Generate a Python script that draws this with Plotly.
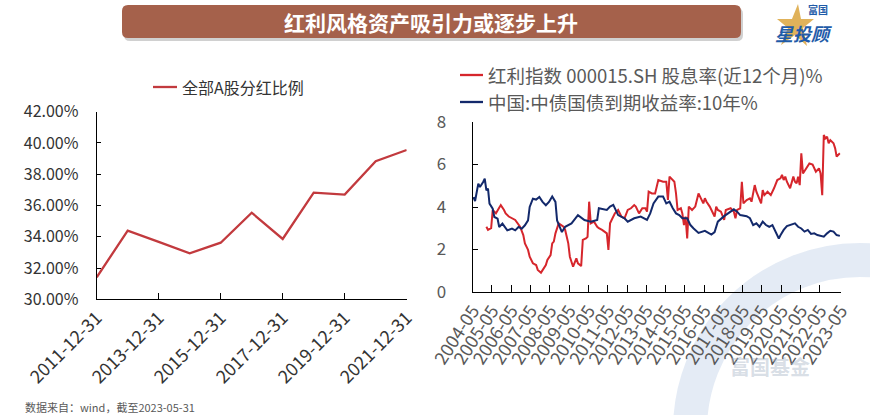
import plotly.graph_objects as go

# left chart: 全部A股分红比例 (%)
years_left = ["2011-12-31", "2012-12-31", "2013-12-31", "2014-12-31", "2015-12-31", "2016-12-31",
              "2017-12-31", "2018-12-31", "2019-12-31", "2020-12-31", "2021-12-31"]
payout_ratio = [31.41, 34.39, 33.67, 32.94, 33.62, 35.54, 33.86, 36.82, 36.70, 38.83, 39.55]
left_ticks = ["2011-12-31", "2013-12-31", "2015-12-31", "2017-12-31", "2019-12-31", "2021-12-31"]

# right chart: 中国:中债国债到期收益率:10年 (%)
bond_dates = ["2004-05", "2004-06", "2004-08", "2004-09", "2004-11", "2004-12", "2005-01", "2005-02",
              "2005-03", "2005-05", "2005-06", "2005-08", "2005-09", "2005-11", "2006-02", "2006-05",
              "2006-07", "2006-09", "2006-11", "2007-01", "2007-03", "2007-04", "2007-06", "2007-08",
              "2007-10", "2007-12", "2008-02", "2008-04", "2008-06", "2008-08", "2008-09", "2008-12",
              "2009-02", "2009-06", "2009-10", "2010-02", "2010-06", "2010-10", "2010-11", "2011-04",
              "2011-06", "2011-08", "2011-11", "2012-03", "2012-05", "2012-09", "2013-01", "2013-05",
              "2013-07", "2013-09", "2013-12", "2014-03", "2014-05", "2014-07", "2014-09", "2014-11",
              "2015-01", "2015-03", "2015-06", "2015-08", "2015-10", "2016-01", "2016-05", "2016-07",
              "2016-09", "2016-11", "2017-01", "2017-05", "2017-09", "2017-11", "2018-01", "2018-03",
              "2018-07", "2018-09", "2018-11", "2019-01", "2019-03", "2019-05", "2019-07", "2019-09",
              "2019-11", "2020-01", "2020-03", "2020-04", "2020-06", "2020-08", "2020-10", "2021-01",
              "2021-03", "2021-05", "2021-07", "2021-09", "2021-11", "2022-01", "2022-03", "2022-05",
              "2022-07", "2022-09", "2022-11", "2023-01", "2023-03", "2023-05"]
bond_yield = [4.47, 4.28, 5.10, 4.94, 5.18, 5.33, 4.78, 4.86,
              4.16, 3.92, 3.53, 3.45, 3.06, 3.22, 2.90, 2.98,
              2.90, 3.06, 2.98, 3.14, 3.37, 4.00, 4.39, 4.35,
              4.47, 4.24, 4.08, 4.24, 4.50, 4.24, 3.37, 2.82,
              3.07, 3.23, 3.62, 3.39, 3.31, 3.39, 3.94, 3.86,
              4.02, 4.10, 3.62, 3.47, 3.31, 3.47, 3.55, 3.39,
              3.70, 4.17, 4.49, 4.49, 4.17, 4.25, 3.94, 3.70,
              3.62, 3.47, 3.47, 3.15, 2.99, 2.78, 2.88, 2.78,
              2.70, 2.82, 3.31, 3.57, 3.78, 3.89, 3.78, 3.62,
              3.57, 3.47, 3.15, 3.23, 3.07, 3.31, 3.15, 3.07,
              3.15, 2.84, 2.52, 2.67, 2.92, 3.10, 3.15, 3.23,
              3.07, 2.99, 2.84, 2.92, 2.73, 2.76, 2.68, 2.64,
              2.60, 2.76, 2.88, 2.84, 2.68, 2.64]

# right chart: 红利指数 000015.SH 股息率(近12个月) (%)
div_dates = ["2005-01", "2005-02", "2005-04", "2005-05", "2005-07", "2005-09", "2005-10", "2005-12",
             "2006-01", "2006-03", "2006-05", "2006-07", "2006-10", "2006-12", "2007-01", "2007-03",
             "2007-04", "2007-06", "2007-08", "2007-09", "2007-11", "2007-12", "2008-02", "2008-03",
             "2008-05", "2008-06", "2008-07", "2008-08", "2008-10", "2009-01", "2009-02", "2009-04",
             "2009-05", "2009-07", "2009-08", "2009-09", "2009-10", "2009-12", "2010-01", "2010-03",
             "2010-04", "2010-05", "2010-06", "2010-08", "2010-10", "2010-11", "2011-01", "2011-04",
             "2011-05", "2011-06", "2011-07", "2011-09", "2011-11", "2011-12", "2012-01", "2012-03",
             "2012-05", "2012-07", "2012-09", "2012-10", "2012-12", "2013-02", "2013-04", "2013-05",
             "2013-06", "2013-08", "2013-10", "2013-12", "2014-03", "2014-05", "2014-06", "2014-07",
             "2014-08", "2014-10", "2014-11", "2014-12", "2015-02", "2015-03", "2015-04", "2015-05",
             "2015-06", "2015-07", "2015-09", "2015-11", "2016-01", "2016-03", "2016-04", "2016-05",
             "2016-06", "2016-08", "2016-09", "2016-11", "2016-12", "2017-01", "2017-03", "2017-05",
             "2017-06", "2017-09", "2017-11", "2017-12", "2018-01", "2018-03", "2018-04", "2018-05",
             "2018-07", "2018-09", "2018-10", "2018-11", "2018-12", "2019-01", "2019-03", "2019-04",
             "2019-05", "2019-06", "2019-08", "2019-10", "2019-12", "2020-02", "2020-04", "2020-05",
             "2020-06", "2020-07", "2020-08", "2020-10", "2020-12", "2021-01", "2021-02", "2021-03",
             "2021-04", "2021-05", "2021-06", "2021-08", "2021-10", "2021-12", "2022-02", "2022-04",
             "2022-05", "2022-06", "2022-07", "2022-08", "2022-09", "2022-10", "2022-11", "2023-01",
             "2023-02", "2023-03", "2023-05"]
div_yield = [3.07, 2.92, 3.00, 3.86, 3.70, 3.94, 4.09, 3.86,
             3.70, 3.55, 3.47, 3.39, 3.07, 2.68, 2.29, 1.98,
             1.66, 1.35, 1.27, 1.04, 0.91, 1.04, 1.27, 1.51,
             1.74, 2.29, 2.37, 2.76, 3.23, 3.07, 2.92, 2.29,
             1.66, 1.19, 1.43, 1.58, 1.35, 1.22, 2.45, 2.52,
             2.60, 4.25, 3.23, 3.31, 3.07, 3.00, 2.92, 2.76,
             1.98, 3.23, 3.39, 3.70, 3.86, 3.70, 3.55, 3.47,
             3.86, 3.94, 4.09, 4.02, 3.70, 3.94, 3.94, 3.78,
             4.72, 4.64, 4.64, 5.27, 5.19, 5.19, 4.33, 5.43,
             5.35, 5.19, 4.64, 3.86, 3.94, 3.70, 3.15, 3.55,
             2.52, 4.02, 3.86, 4.02, 4.64, 4.33, 4.17, 4.41,
             4.25, 4.02, 3.86, 3.55, 4.02, 3.86, 3.78, 3.39,
             3.86, 3.94, 3.78, 3.47, 3.86, 3.94, 5.19, 4.17,
             4.33, 4.41, 4.25, 4.64, 5.03, 4.72, 4.41, 4.17,
             4.80, 4.56, 4.72, 4.56, 4.88, 5.27, 5.35, 5.51,
             5.27, 5.43, 5.19, 4.88, 5.43, 5.19, 5.11, 5.43,
             5.03, 6.53, 5.58, 5.82, 6.05, 6.00, 5.66, 5.82,
             5.58, 4.56, 7.39, 7.23, 7.31, 7.00, 7.15, 7.00,
             6.76, 6.37, 6.53]
right_ticks = [str(y) + "-05" for y in range(2004, 2024)]

W, H = 870, 415
def px(x):
    return x / W
def py(y):
    return 1 - y / H

RED = "#D6262C"
NAVY = "#13296B"
LEFT_RED = "#C23A3E"
FONT = "Noto Sans CJK SC, Microsoft YaHei, sans-serif"

fig = go.Figure()
fig.add_trace(go.Scatter(x=years_left, y=payout_ratio, mode="lines", name="全部A股分红比例",
                         line=dict(color=LEFT_RED, width=2.3), xaxis="x", yaxis="y"))
fig.add_trace(go.Scatter(x=[d + "-15" for d in div_dates], y=div_yield, mode="lines",
                         name="红利指数 000015.SH 股息率(近12个月)%",
                         line=dict(color=RED, width=2), xaxis="x2", yaxis="y2"))
fig.add_trace(go.Scatter(x=[d + "-15" for d in bond_dates], y=bond_yield, mode="lines",
                         name="中国:中债国债到期收益率:10年%",
                         line=dict(color=NAVY, width=2), xaxis="x2", yaxis="y2"))

axis_common = dict(showgrid=False, zeroline=False, showline=True, linecolor="#000000", linewidth=1,
                   ticks="inside", tickcolor="#000000", automargin=False)

fig.update_layout(
    template="none",
    width=W, height=H,
    margin=dict(l=0, r=0, t=0, b=0, pad=0, autoexpand=False),
    paper_bgcolor="white", plot_bgcolor="rgba(0,0,0,0)",
    showlegend=False,
    font=dict(family=FONT),
    xaxis=dict(axis_common, domain=[px(96.7), px(406.7)], anchor="y", type="category",
               range=[0, len(years_left) - 1], tickvals=left_ticks, ticktext=left_ticks,
               tickangle=-45, ticklen=6, tickfont=dict(size=18, color="#333333")),
    yaxis=dict(axis_common, domain=[py(299.3), py(111.7)], anchor="x", range=[30, 42], dtick=2,
               tickformat=".2f", ticksuffix="%", ticklen=4, ticklabelstandoff=14,
               tickfont=dict(size=16, color="#333333")),
    xaxis2=dict(axis_common, domain=[px(472.7), px(840.7)], anchor="y2", type="date",
                range=["2004-05-01", "2023-05-31"],
                tickvals=[t + "-01" for t in right_ticks[:-1]] + ["2023-05-31"], ticktext=right_ticks,
                tickangle=-57, ticklen=7, tickfont=dict(size=18, color="#595959")),
    yaxis2=dict(axis_common, domain=[py(292), py(122)], anchor="x2", range=[0, 8], dtick=2,
                ticklen=5, ticklabelstandoff=22, tickfont=dict(size=17, color="#595959")),
)

shapes = []
annotations = []

# watermark ring (background decoration)
shapes.append(dict(type="circle", xref="paper", yref="paper", layer="below",
                   x0=px(690), x1=px(1030), y0=py(600), y1=py(260),
                   line=dict(color="rgba(205,218,236,0.55)", width=34)))
annotations.append(dict(text="<b>富国基金</b>", x=px(812), y=py(383), xref="paper", yref="paper",
                        showarrow=False, font=dict(size=20, color="rgba(170,182,200,0.45)")))

# title banner
x0, x1, y0, y1, r = 122, 741, 5, 38, 6
shadow = f"M{x0+r+2},{y0+3} L{x1-r+2},{y0+3} Q{x1+2},{y0+3} {x1+2},{y0+r+3} L{x1+2},{y1-r+3} Q{x1+2},{y1+3} {x1-r+2},{y1+3} L{x0+r+2},{y1+3} Q{x0+2},{y1+3} {x0+2},{y1-r+3} L{x0+2},{y0+r+3} Q{x0+2},{y0+3} {x0+r+2},{y0+3} Z"
banner = f"M{x0+r},{y0} L{x1-r},{y0} Q{x1},{y0} {x1},{y0+r} L{x1},{y1-r} Q{x1},{y1} {x1-r},{y1} L{x0+r},{y1} Q{x0},{y1} {x0},{y1-r} L{x0},{y0+r} Q{x0},{y0} {x0+r},{y0} Z"
def to_paper_path(p):
    out = []
    for tok in p.split(" "):
        cmd = ""
        if tok[0].isalpha():
            cmd, tok = tok[0], tok[1:]
        if tok:
            a, b = tok.split(",")
            out.append(f"{cmd}{float(a)/W:.5f},{1-float(b)/H:.5f}")
        else:
            out.append(cmd)
    return " ".join(out)
shapes.append(dict(type="path", xref="paper", yref="paper", path=to_paper_path(shadow),
                   fillcolor="rgba(120,120,120,0.35)", line=dict(width=0)))
shapes.append(dict(type="path", xref="paper", yref="paper", path=to_paper_path(banner),
                   fillcolor="#A5614B", line=dict(width=0)))
annotations.append(dict(text="<b>红利风格资产吸引力或逐步上升</b>", x=px(431), y=py(21.5),
                        xref="paper", yref="paper", showarrow=False, yanchor="middle",
                        font=dict(size=21, color="white")))

# logo
star = "M798,4 L801,19 L814,19 L803,28 L807,46 L795,35 L781,45 L788,28 L777,19 L792,19 Z"
shapes.append(dict(type="path", xref="paper", yref="paper", path=to_paper_path(star),
                   fillcolor="#E0B25A", line=dict(width=0)))
annotations.append(dict(text="<b>富国</b>", x=px(829), y=py(10), xref="paper", yref="paper",
                        showarrow=False, yanchor="middle", borderpad=0,
                        font=dict(size=10, color="#1F5BA8")))
annotations.append(dict(text="<b><i>星投顾</i></b>", x=px(833), y=py(33), xref="paper", yref="paper",
                        showarrow=False, yanchor="middle", borderpad=0,
                        font=dict(size=18, color="#1F5BA8")))

# legends
legend_items = [
    (153, 177, 87, LEFT_RED, "全部A股分红比例", 16, "#333333"),
    (460, 483, 75, RED, "红利指数 000015.SH 股息率(近12个月)%", 18.5, "#595959"),
    (460, 483, 102, NAVY, "中国:中债国债到期收益率:10年%", 18.5, "#595959"),
]
for lx0, lx1, ly, col, txt, fs, tc in legend_items:
    shapes.append(dict(type="line", xref="paper", yref="paper", x0=px(lx0), x1=px(lx1),
                       y0=py(ly), y1=py(ly), line=dict(color=col, width=2.3)))
    annotations.append(dict(text=txt, x=px(lx1 + 3), y=py(ly), xref="paper", yref="paper",
                            xanchor="left", yanchor="middle", showarrow=False,
                            font=dict(size=fs, color=tc)))

# source note
annotations.append(dict(text="数据来自：wind，截至2023-05-31", x=px(23), y=py(407), xref="paper",
                        yref="paper", xanchor="left", yanchor="middle", showarrow=False,
                        font=dict(size=11, color="#595959")))

fig.update_layout(shapes=shapes, annotations=annotations)
# page body has a default 8px margin; drop it so the figure sits at the window origin
fig.write_html("out.html", config={"displayModeBar": False},
               post_script="document.body.style.margin='0';")
